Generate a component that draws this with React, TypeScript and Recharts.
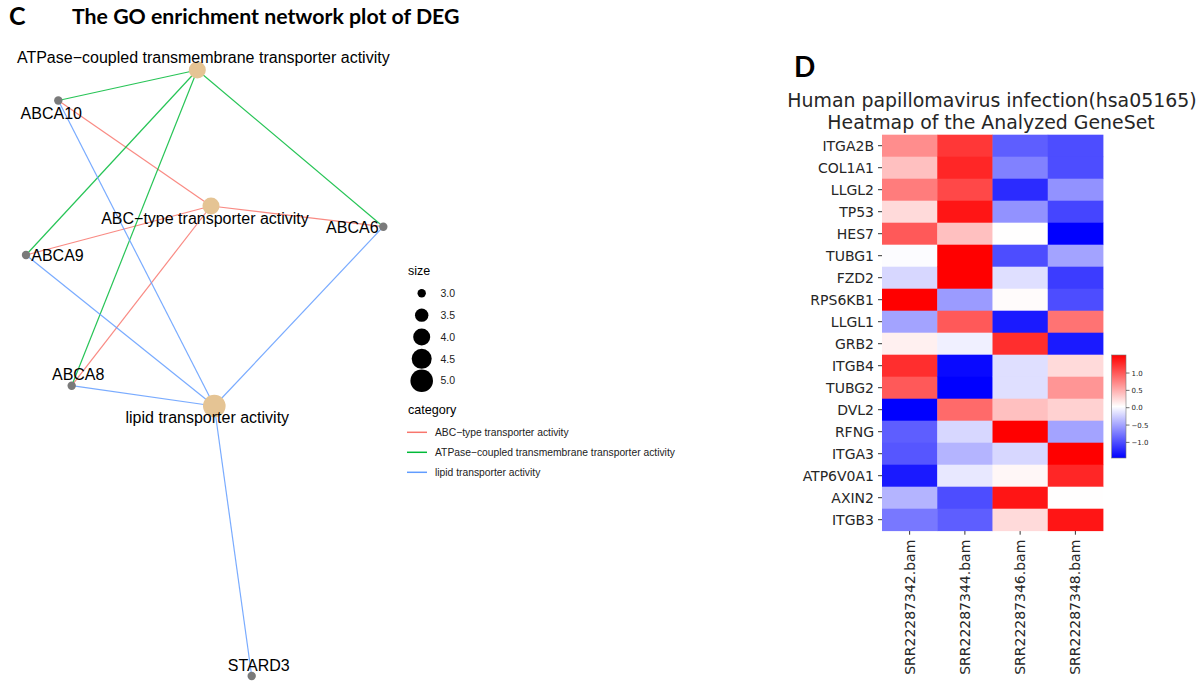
import React from "react";
import { ScatterChart, Scatter, XAxis, YAxis } from "recharts";

const NET_FONT = '"Liberation Sans", Arial, sans-serif';
const HEAT_FONT = '"DejaVu Sans", sans-serif';
const TITLE_FONT = 'Lato, "Open Sans", sans-serif';

// ---- GO network (panel C) ----
const CATEGORIES = [
  "ABC−type transporter activity",
  "ATPase−coupled transmembrane transporter activity",
  "lipid transporter activity",
];
const CATEGORY_SIZE = [4, 4, 5];
const CATEGORY_COLORS = ["#F8766D", "#00BA38", "#619CFF"];
const CATEGORY_GENES = [
  ["ABCA10", "ABCA6", "ABCA9", "ABCA8"],
  ["ABCA10", "ABCA6", "ABCA9", "ABCA8"],
  ["ABCA10", "ABCA6", "ABCA9", "ABCA8", "STARD3"],
];
const NET_GENES = ["ABCA10", "ABCA6", "ABCA9", "ABCA8", "STARD3"];

// graph layout (x, y) in layout units
const LAYOUT: Record<string, [number, number]> = {
  "ATPase−coupled transmembrane transporter activity": [197.3, 70],
  "ABC−type transporter activity": [211, 206],
  "lipid transporter activity": [214.3, 406],
  ABCA10: [58.3, 100.5],
  ABCA6: [383.3, 226.7],
  ABCA9: [26, 255],
  ABCA8: [71.7, 385.7],
  STARD3: [251.7, 676],
};

const SIZE_LEGEND = [3.0, 3.5, 4.0, 4.5, 5.0];

// ---- Heatmap (panel D) ----
const GENES = [
  "ITGA2B", "COL1A1", "LLGL2", "TP53", "HES7", "TUBG1", "FZD2", "RPS6KB1", "LLGL1",
  "GRB2", "ITGB4", "TUBG2", "DVL2", "RFNG", "ITGA3", "ATP6V0A1", "AXIN2", "ITGB3",
];
const SAMPLES = ["SRR22287342.bam", "SRR22287344.bam", "SRR22287346.bam", "SRR22287348.bam"];
const S342 = [0.7, 0.4, 0.8, 0.25, 1.0, 0.02, -0.2, 1.52, -0.5, 0.12, 1.25, 1.0, -1.45, -0.9, -0.95, -1.3, -0.4, -0.75];
const S344 = [1.2, 1.3, 1.1, 1.4, 0.4, 1.52, 1.52, -0.55, 1.0, -0.05, -1.4, -1.45, 0.9, -0.2, -0.4, -0.1, -1.0, -0.9];
const S346 = [-0.9, -0.7, -1.2, -0.6, 0.04, -1.0, -0.15, 0.06, -1.3, 1.25, -0.15, -0.15, 0.4, 1.52, -0.2, 0.08, 1.4, 0.25];
const S348 = [-1.0, -1.0, -0.6, -1.05, -1.45, -0.5, -1.1, -1.0, 0.85, -1.3, 0.25, 0.65, 0.3, -0.5, 1.52, 1.3, 0.04, 1.4];
const SAMPLE_VALUES = [S342, S344, S346, S348];
const COLORBAR_TICKS = [-1, -0.5, 0, 0.5, 1];

const ALL_VALUES = SAMPLE_VALUES.flat();
const VMIN = Math.min(...ALL_VALUES);
const VMAX = Math.max(...ALL_VALUES);

function bwr(v: number) {
  const t = Math.max(0, Math.min(1, (v - VMIN) / (VMAX - VMIN)));
  let r, g, b;
  if (t < 0.5) {
    r = g = 2 * t;
    b = 1;
  } else {
    r = 1;
    g = b = 2 * (1 - t);
  }
  const c = (x: number) => Math.round(x * 255);
  return `rgb(${c(r)},${c(g)},${c(b)})`;
}

// ggplot-like size scale: area linear in size
function sizeToRadius(s: number) {
  const a0 = Math.PI * 4.2 * 4.2;
  const a1 = Math.PI * 11.3 * 11.3;
  const a = a0 + ((s - 3) / 2) * (a1 - a0);
  return Math.sqrt(a / Math.PI);
}

const LABEL_OFFSET: Record<string, [number, number]> = {
  "ATPase−coupled transmembrane transporter activity": [6, -7],
  "ABC−type transporter activity": [-6, 17.5],
  "lipid transporter activity": [-7, 16.7],
  ABCA10: [-7, 18],
  ABCA6: [-31, 6],
  ABCA9: [31.5, 5.7],
  ABCA8: [6.5, -5.7],
  STARD3: [7, -5.3],
};

const nodes = [
  ...CATEGORIES.map((name, i) => ({
    name,
    kind: "term",
    size: CATEGORY_SIZE[i],
    x: LAYOUT[name][0],
    y: LAYOUT[name][1],
  })),
  ...NET_GENES.map((name) => ({
    name,
    kind: "gene",
    size: 0,
    x: LAYOUT[name][0],
    y: LAYOUT[name][1],
  })),
];

const edges = CATEGORIES.flatMap((cat, i) =>
  CATEGORY_GENES[i].map((gene) => ({
    id: `${cat}-${gene}`,
    color: CATEGORY_COLORS[i],
    points: [
      { x: LAYOUT[cat][0], y: LAYOUT[cat][1] },
      { x: LAYOUT[gene][0], y: LAYOUT[gene][1] },
    ],
  }))
);

const cells = SAMPLES.flatMap((_, col) =>
  GENES.map((gene, row) => ({ col, row, gene, value: SAMPLE_VALUES[col][row] }))
);

const NodeShape = (props: any) => {
  const { cx, cy, payload } = props;
  const isTerm = payload.kind === "term";
  const r = isTerm ? sizeToRadius(payload.size) : 4.2;
  const off = LABEL_OFFSET[payload.name];
  return (
    <g>
      <circle cx={cx} cy={cy} r={r} fill={isTerm ? "#E5C494" : "#7a7a7a"} />
      <text
        x={cx + off[0]}
        y={cy + off[1]}
        textAnchor="middle"
        fontSize={16}
        fontFamily={NET_FONT}
        fill="#000"
      >
        {payload.name}
      </text>
    </g>
  );
};

const emptyShape = () => <g />;

// heatmap geometry
const HEAT_W = 360;
const HEAT_H = 686;
const HEAT_MARGIN = { top: 134.7, right: 17, bottom: 5.3, left: 0 };
const HEAT_YAXIS_W = 122;
const HEAT_XAXIS_H = 150;
const CELL_W = (HEAT_W - HEAT_MARGIN.left - HEAT_MARGIN.right - HEAT_YAXIS_W) / SAMPLES.length;
const CELL_H = (HEAT_H - HEAT_MARGIN.top - HEAT_MARGIN.bottom - HEAT_XAXIS_H) / GENES.length;

const CellShape = (props: any) => {
  const { cx, cy, payload } = props;
  return (
    <rect
      x={cx - CELL_W / 2}
      y={cy - CELL_H / 2}
      width={CELL_W + 0.4}
      height={CELL_H + 0.4}
      fill={bwr(payload.value)}
    />
  );
};

const SampleTick = (props: any) => {
  const { x, y, payload } = props;
  return (
    <text
      transform={`translate(${x},${y}) rotate(-90)`}
      textAnchor="end"
      dy="0.36em"
      fontSize={14}
      fontFamily={HEAT_FONT}
      fill="#262626"
    >
      {SAMPLES[payload.value]}
    </text>
  );
};

const SizeDot = (props: any) => {
  const { cx, cy, payload } = props;
  return <circle cx={cx} cy={cy} r={sizeToRadius(payload.size)} fill="#000" />;
};

// colorbar geometry
const CB_X = 1111.7;
const CB_TOP = 355;
const CB_H = 103;
const CB_W = 14.3;
const cbY = (v: number) => CB_TOP + ((VMAX - v) / (VMAX - VMIN)) * CB_H;

export default function App() {
  return (
    <div
      style={{
        position: "absolute",
        left: 0,
        top: 0,
        width: 1202,
        height: 686,
        background: "#fff",
        overflow: "hidden",
      }}
    >
      {/* network */}
      <div style={{ position: "absolute", left: 0, top: 0 }}>
        <ScatterChart width={420} height={686} margin={{ top: 0, right: 0, bottom: 0, left: 0 }}>
          <XAxis type="number" dataKey="x" domain={[0, 420]} hide />
          <YAxis type="number" dataKey="y" domain={[0, 686]} reversed hide />
          {edges.map((e) => (
            <Scatter
              key={e.id}
              data={e.points}
              fill={e.color}
              line={{ stroke: e.color, strokeWidth: 1.2, strokeOpacity: 0.85 }}
              shape={emptyShape}
              legendType="none"
              isAnimationActive={false}
            />
          ))}
          <Scatter data={nodes} shape={NodeShape} isAnimationActive={false} />
        </ScatterChart>
      </div>

      {/* size legend */}
      <div style={{ position: "absolute", left: 407, top: 280 }}>
        <ScatterChart
          width={29.4 + 34}
          height={115}
          margin={{ top: 13.3, right: 0, bottom: 14.3, left: 0 }}
        >
          <XAxis type="category" dataKey="key" allowDuplicatedCategory={false} hide />
          <YAxis
            type="number"
            dataKey="size"
            orientation="right"
            domain={[3, 5]}
            reversed
            ticks={SIZE_LEGEND}
            tickFormatter={(v: number) => v.toFixed(1)}
            width={34}
            axisLine={false}
            tickLine={false}
            tickSize={0}
            tickMargin={4}
            tick={{ fontSize: 10.5, fill: "#222", fontFamily: NET_FONT }}
          />
          <Scatter
            data={SIZE_LEGEND.map((size) => ({ key: "size", size }))}
            shape={SizeDot}
            isAnimationActive={false}
          />
        </ScatterChart>
      </div>

      {/* heatmap */}
      <div style={{ position: "absolute", left: 760, top: 0 }}>
        <ScatterChart width={HEAT_W} height={HEAT_H} margin={HEAT_MARGIN}>
          <XAxis
            type="number"
            dataKey="col"
            domain={[-0.5, SAMPLES.length - 0.5]}
            ticks={SAMPLES.map((_, i) => i)}
            interval={0}
            height={HEAT_XAXIS_H}
            axisLine={false}
            tickSize={4}
            tickMargin={5}
            tickLine={{ stroke: "#333" }}
            tick={<SampleTick />}
          />
          <YAxis
            type="number"
            dataKey="row"
            domain={[-0.5, GENES.length - 0.5]}
            reversed
            ticks={GENES.map((_, i) => i)}
            interval={0}
            width={HEAT_YAXIS_W}
            axisLine={false}
            tickSize={4}
            tickMargin={4}
            tickLine={{ stroke: "#333" }}
            tickFormatter={(v: number) => GENES[v]}
            tick={{ fontSize: 14, fill: "#262626", fontFamily: HEAT_FONT }}
          />
          <Scatter data={cells} shape={CellShape} isAnimationActive={false} />
        </ScatterChart>
      </div>

      {/* titles, legends, colorbar */}
      <svg
        width={1202}
        height={686}
        style={{ position: "absolute", left: 0, top: 0, pointerEvents: "none" }}
      >
        <defs>
          <linearGradient id="bwrGrad" x1="0" y1="0" x2="0" y2="1">
            <stop offset="0%" stopColor="rgb(255,0,0)" />
            <stop offset="50%" stopColor="rgb(255,255,255)" />
            <stop offset="100%" stopColor="rgb(0,0,255)" />
          </linearGradient>
        </defs>
        <text x={9} y={25} fontFamily={TITLE_FONT} fontWeight={700} fontSize={25} fill="#000">
          C
        </text>
        <text x={72} y={24} fontFamily={TITLE_FONT} fontWeight={700} fontSize={21.3} fill="#000">
          The GO enrichment network plot of DEG
        </text>
        <text x={794} y={77} fontFamily={TITLE_FONT} fontWeight={700} fontSize={28} fill="#000">
          D
        </text>
        <text x={992} y={106.7} textAnchor="middle" fontFamily={HEAT_FONT} fontSize={18.9} fill="#262626">
          Human papillomavirus infection(hsa05165)
        </text>
        <text x={991} y={129.3} textAnchor="middle" fontFamily={HEAT_FONT} fontSize={18.9} fill="#262626">
          Heatmap of the Analyzed GeneSet
        </text>

        <text x={408} y={275} fontFamily={NET_FONT} fontSize={12.5} fill="#000">
          size
        </text>
        <text x={408} y={413.5} fontFamily={NET_FONT} fontSize={12.6} fill="#000">
          category
        </text>
        {CATEGORIES.map((cat, i) => (
          <g key={cat}>
            <line
              x1={407}
              x2={427}
              y1={432.3 + i * 20}
              y2={432.3 + i * 20}
              stroke={CATEGORY_COLORS[i]}
              strokeWidth={1.5}
            />
            <text
              x={435}
              y={432.3 + i * 20 + 3.6}
              fontFamily={NET_FONT}
              fontSize={10.3}
              fill="#222"
            >
              {cat}
            </text>
          </g>
        ))}

        <rect
          x={CB_X}
          y={CB_TOP}
          width={CB_W}
          height={CB_H}
          fill="url(#bwrGrad)"
          stroke="#777"
          strokeWidth={0.6}
        />
        {COLORBAR_TICKS.map((v) => (
          <g key={v}>
            <line
              x1={CB_X + CB_W}
              x2={CB_X + CB_W + 3.5}
              y1={cbY(v)}
              y2={cbY(v)}
              stroke="#333"
              strokeWidth={0.7}
            />
            <text
              x={CB_X + CB_W + 5.5}
              y={cbY(v) + 2.5}
              fontFamily={HEAT_FONT}
              fontSize={7}
              fill="#262626"
            >
              {v.toFixed(1).replace("-", "−")}
            </text>
          </g>
        ))}
      </svg>
    </div>
  );
}
